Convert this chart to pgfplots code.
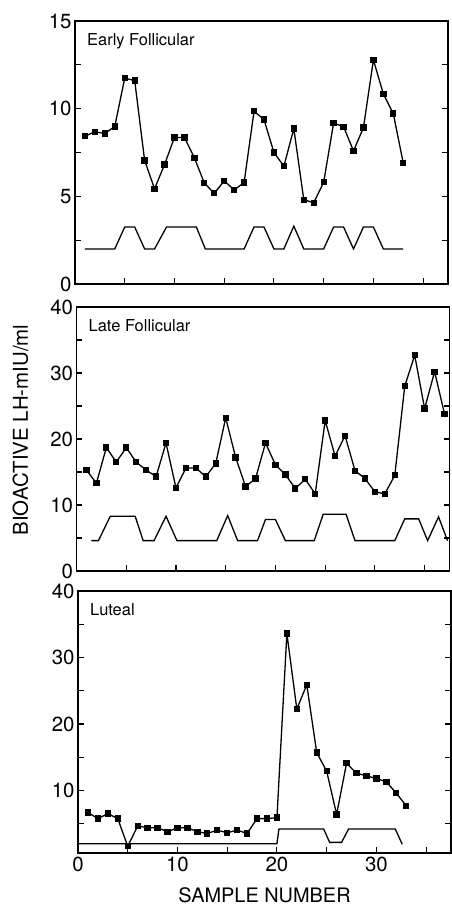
\documentclass[border=0pt]{standalone}
\usepackage{fontspec}
\setmainfont{TeX Gyre Heros}
\usepackage{pgfplots}
\pgfplotsset{compat=1.18}

\pgfplotsset{
  lhpanel/.style={
    scale only axis, width=373bp, anchor=south west,
    xmin=0, xmax=37.5,
    xtick={0,5,...,35}, xticklabels={},
    tick align=inside, xtick pos=bottom, ytick pos=both,
    major tick length=6bp, minor tick length=6bp,
    axis line style={line width=1.4bp},
    tick style={black, line width=1.1bp},
    tick label style={font=\fontsize{20.5}{24}\selectfont},
    /pgf/number format/assume math mode=true,
  },
  lhdata/.style={black, line width=1.3bp, mark=square*, mark size=2.5bp, mark options={solid}},
  lhpulse/.style={black, line width=1.3bp, no markers},
}
\tikzset{
  lhname/.style={anchor=north west, inner sep=0pt, xshift=12bp, yshift=-12bp,
    font=\fontsize{16.5}{20}\selectfont},
}

\begin{document}
\begin{tikzpicture}
\path[use as bounding box] (0,0) rectangle (452bp,907bp);

% early follicular
\begin{axis}[lhpanel, at={(75bp,623bp)}, height=263bp,
  ymin=0, ymax=15, ytick={0,5,10,15}, minor ytick={2.5,7.5,12.5}]
\addplot[lhdata] coordinates {
 (1,8.43) (2,8.68) (3,8.58) (4,8.99) (5,11.74) (6,11.60) (7,7.05) (8,5.43)
 (9,6.81) (10,8.36) (11,8.36) (12,7.20) (13,5.76) (14,5.17) (15,5.88) (16,5.37)
 (17,5.78) (18,9.85) (19,9.38) (20,7.50) (21,6.72) (22,8.86) (23,4.81) (24,4.63)
 (25,5.80) (26,9.18) (27,8.97) (28,7.59) (29,8.92) (30,12.78) (31,10.84) (32,9.72)
 (33,6.90)};
\addplot[lhpulse] coordinates {
 (1,2) (4,2) (5,3.25) (6,3.25) (7,2) (8,2) (9.2,3.25) (12.2,3.25) (13.1,2)
 (17,2) (18,3.25) (19,3.25) (20,2) (21,2) (22,3.3) (23,2) (25,2) (26,3.25)
 (27,3.25) (28,2) (29,3.25) (30,3.25) (31,2) (33,2)};
\node[lhname] at (rel axis cs:0,1) {Early Follicular};
\end{axis}

% late follicular
\begin{axis}[lhpanel, at={(76.5bp,336bp)}, height=264bp,
  ymin=0, ymax=40, ytick={0,10,20,30,40}, minor ytick={5,15,25,35}]
\addplot[lhdata] coordinates {
 (1,15.3) (2,13.3) (3,18.7) (4,16.5) (5,18.7) (6,16.5) (7,15.3) (8,14.3)
 (9,19.4) (10,12.6) (11,15.6) (12,15.6) (13,14.3) (14,16.3) (15,23.2) (16,17.2)
 (17,12.8) (18,14.0) (19,19.4) (20,16.1) (21,14.6) (22,12.5) (23,13.9) (24,11.7)
 (25,22.8) (26,17.4) (27,20.5) (28,15.2) (29,14.0) (30,12.0) (31,11.7) (32,14.5)
 (33,28.0) (34,32.7) (35,24.6) (36,30.2) (37,23.8)};
\addplot[lhpulse] coordinates {
 (1.5,4.6) (2.2,4.6) (3.4,8.3) (5.9,8.3) (6.7,4.6) (7.8,4.6) (9,8.3) (10.1,4.6)
 (14.1,4.6) (15.2,8.4) (16.2,4.6) (18.2,4.6) (19,7.8) (20,7.8) (21,4.6)
 (23.9,4.6) (24.8,8.6) (27.1,8.6) (28,4.6) (32,4.6) (33,7.9) (34.4,7.9)
 (35.3,4.6) (36.4,8.2) (37.3,4.6)};
\node[lhname] at (rel axis cs:0,1) {Late Follicular};
\end{axis}

% luteal
\begin{axis}[lhpanel, at={(78bp,54bp)}, height=262bp,
  ymin=0.6, ymax=40, ytick={10,20,30,40}, minor ytick={5,15,25,35},
  xticklabels={0,,10,,20,,30,},
  xlabel={SAMPLE NUMBER},
  xlabel style={font=\fontsize{20}{24}\selectfont, at={(axis description cs:0.5,0)},
    anchor=north, inner sep=0pt, yshift=-34bp}]
\addplot[lhdata] coordinates {
 (1,6.68) (2,5.77) (3,6.52) (4,5.77) (5,1.61) (6,4.65) (7,4.40) (8,4.40)
 (9,3.79) (10,4.40) (11,4.40) (12,3.79) (13,3.54) (14,4.04) (15,3.64) (16,4.04)
 (17,3.54) (18,5.77) (19,5.77) (20,5.92) (21,33.6) (22,22.25) (23,25.9) (24,15.7)
 (25,12.9) (26,6.4) (27,14.1) (28,12.6) (29,12.2) (30,11.8) (31,11.3) (32,9.6)
 (33,7.7)};
\addplot[lhpulse] coordinates {
 (0,2.0) (20,2.0) (20.2,4.2) (24.7,4.2) (25.3,2.2) (26.5,2.2) (27.2,4.2)
 (31.9,4.2) (32.6,1.9)};
\node[lhname] at (rel axis cs:0,1) {Luteal};
\end{axis}

\node[rotate=90, inner sep=0pt, font=\fontsize{20.5}{24}\selectfont] at (20.5bp,477bp) {BIOACTIVE LH-mIU/ml};
\end{tikzpicture}
\end{document}
